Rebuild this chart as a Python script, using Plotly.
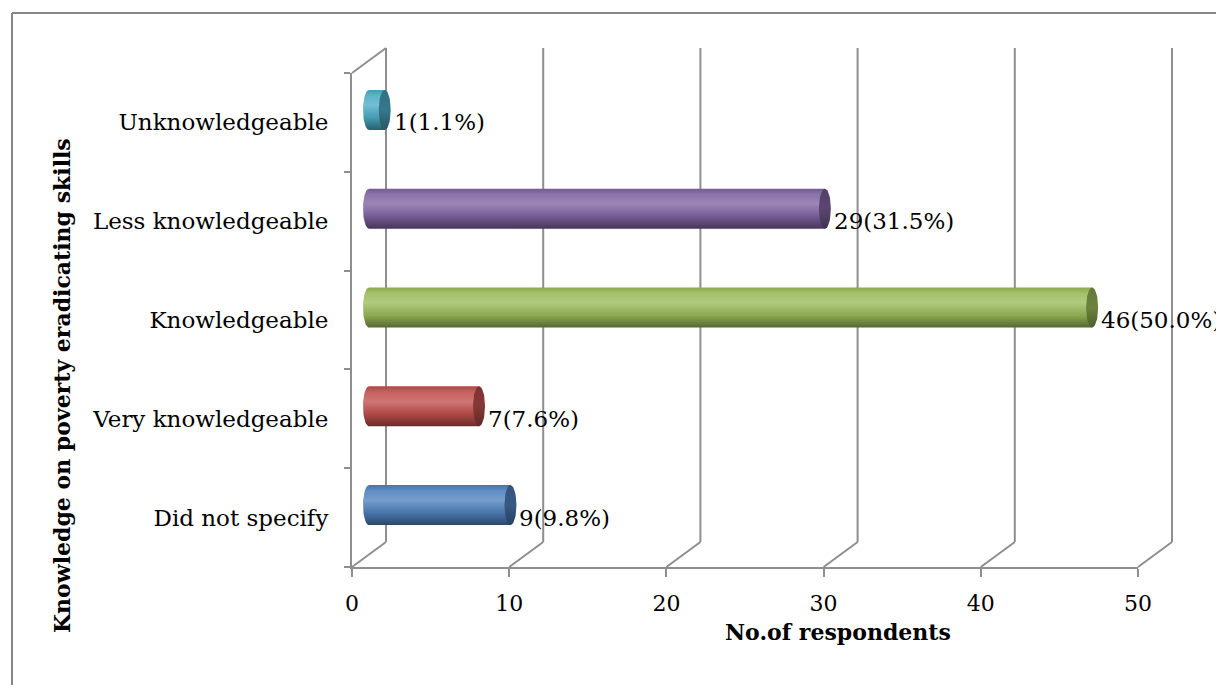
import plotly.graph_objects as go
import numpy as np

# ---- data ----
categories = ["Did not specify", "Very knowledgeable", "Knowledgeable",
              "Less knowledgeable", "Unknowledgeable"]
counts = [9, 7, 46, 29, 1]
percents = [9.8, 7.6, 50.0, 31.5, 1.1]
x_ticks = [0, 10, 20, 30, 40, 50]
x_title = "No.of respondents"
y_title = "Knowledge on poverty eradicating skills"

# ---- style ----
base_colors = ["#4F81BD", "#C0504D", "#9BBB59", "#8064A2", "#4BACC6"]
FONT = "DejaVu Serif"
GRID = "#8E8E8E"
W, H = 1216, 685
L, R, T, B = 352, 1138, 73, 567          # front plane pixel box
DX, DY = 34, 25                          # depth offset in pixels
XMAX = 50
pw, ph = R - L, B - T
ux = pw / XMAX                           # px per x unit
uy = ph / len(categories)                # px per category


def mix(hexc, f, target=(255, 255, 255)):
    h = hexc.lstrip("#")
    rgb = [int(h[i:i + 2], 16) for i in (0, 2, 4)]
    out = [round(c + (t - c) * f) for c, t in zip(rgb, target)]
    return "rgb(%d,%d,%d)" % tuple(out)


def dark(c, f):
    return mix(c, f, (0, 0, 0))


fig = go.Figure()

# invisible trace to keep the front axes active
fig.add_trace(go.Scatter(x=[0], y=[0], mode="markers", marker=dict(opacity=0),
                         hoverinfo="skip", showlegend=False))

# mid-depth axis ranges (bars sit halfway between front and back planes)
ox = (DX / 2) / ux
oy = (DY / 2) / uy
x2range = [-ox, XMAX - ox]
y2range = [-0.5 - oy, len(categories) - 0.5 - oy]

rx = 6 / ux
ry = 20 / uy

for i, (v, c) in enumerate(zip(counts, base_colors)):
    th = np.linspace(np.pi / 2, 3 * np.pi / 2, 30)
    bx = list(rx * np.cos(th)) + [v, v]
    by = list(i + ry * np.sin(th)) + [i - ry, i + ry]
    fig.add_trace(go.Scatter(
        x=bx, y=by, xaxis="x2", yaxis="y2", mode="lines", fill="toself",
        line=dict(width=0), hoverinfo="skip", showlegend=False,
        fillgradient=dict(type="vertical", colorscale=[
            [0.0, dark(c, 0.45)], [0.3, dark(c, 0.1)], [0.62, mix(c, 0.22)],
            [0.85, mix(c, 0.1)], [1.0, dark(c, 0.1)]])))
    th2 = np.linspace(0, 2 * np.pi, 60)
    fig.add_trace(go.Scatter(
        x=list(v + rx * np.cos(th2)), y=list(i + ry * np.sin(th2)),
        xaxis="x2", yaxis="y2", mode="lines", fill="toself",
        line=dict(width=0), hoverinfo="skip", showlegend=False,
        fillgradient=dict(type="vertical", colorscale=[
            [0.0, dark(c, 0.5)], [0.5, dark(c, 0.3)], [1.0, dark(c, 0.35)]])))

# data labels
annotations = []
for i, (v, p) in enumerate(zip(counts, percents)):
    annotations.append(dict(
        x=v, y=i, xref="x2", yref="y", xanchor="left", yanchor="middle",
        xshift=rx * ux + 1, text="%d(%.1f%%)" % (v, p), showarrow=False,
        font=dict(family=FONT, size=23, color="#000")))

annotations.append(dict(
    x=(838 - L) / pw, y=(B - 632) / ph, xref="paper", yref="paper",
    text="<b>%s</b>" % x_title, showarrow=False, xanchor="center", yanchor="middle",
    font=dict(family=FONT, size=22, color="#000")))
annotations.append(dict(
    x=(62 - L) / pw, y=(B - 386) / ph, xref="paper", yref="paper",
    text="<b>%s</b>" % y_title, showarrow=False, textangle=-90,
    xanchor="center", yanchor="middle",
    font=dict(family=FONT, size=22, color="#000")))

# 3D walls / gridlines
shapes = []
dxp, dyp = DX / pw, DY / ph
for t in x_ticks:
    p = t / XMAX
    shapes.append(dict(type="line", xref="paper", yref="paper",
                       x0=p, y0=0, x1=p + dxp, y1=dyp,
                       line=dict(color=GRID, width=2)))
    shapes.append(dict(type="line", xref="paper", yref="paper",
                       x0=p + dxp, y0=dyp, x1=p + dxp, y1=1 + dyp,
                       line=dict(color=GRID, width=2)))
shapes.append(dict(type="line", xref="paper", yref="paper",
                   x0=0, y0=1, x1=dxp, y1=1 + dyp,
                   line=dict(color=GRID, width=2)))
# chart border (top and left)
shapes.append(dict(type="line", xref="paper", yref="paper",
                   x0=(12 - L) / pw, y0=(B - 13) / ph, x1=(W + 5 - L) / pw, y1=(B - 13) / ph,
                   line=dict(color="#878787", width=2)))
shapes.append(dict(type="line", xref="paper", yref="paper",
                   x0=(12 - L) / pw, y0=(B - 13) / ph, x1=(12 - L) / pw, y1=(B - H - 5) / ph,
                   line=dict(color="#878787", width=2)))
for s in shapes:
    s["layer"] = "below"

fig.update_layout(
    width=W, height=H,
    margin=dict(l=L, r=W - R, t=T, b=H - B, pad=0),
    paper_bgcolor="white", plot_bgcolor="rgba(0,0,0,0)",
    showlegend=False,
    xaxis=dict(range=[0, XMAX], tickvals=x_ticks, showgrid=False, zeroline=False,
               showline=True, linecolor=GRID, linewidth=2, anchor="y",
               ticks="outside", ticklen=8, tickwidth=2, tickcolor=GRID,
               ticklabelstandoff=8,
               tickfont=dict(family=FONT, size=22, color="#000"),
               fixedrange=True),
    yaxis=dict(range=[-0.5, len(categories) - 0.5], tickvals=list(range(len(categories))),
               ticktext=categories, showgrid=False, zeroline=False, anchor="x",
               showline=True, linecolor=GRID, linewidth=2, ticks="",
               ticklabelstandoff=17,
               minor=dict(tickvals=[k - 0.5 for k in range(len(categories) + 1)],
                          ticks="outside", ticklen=6, tickwidth=2, tickcolor=GRID),
               tickfont=dict(family=FONT, size=23, color="#000"),
               fixedrange=True),
    xaxis2=dict(range=x2range, overlaying="x", anchor="y2", visible=False, fixedrange=True),
    yaxis2=dict(range=y2range, overlaying="y", anchor="x2", visible=False, fixedrange=True),
    annotations=annotations, shapes=shapes,
)

fig.write_html("out.html")
